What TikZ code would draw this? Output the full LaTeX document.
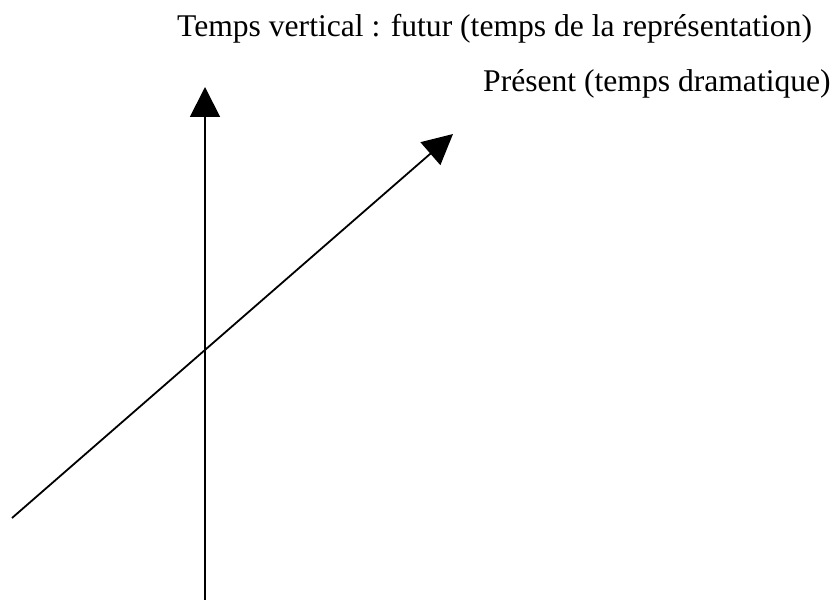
\documentclass[tikz,border=0pt]{standalone}
\usepackage{fontspec}
\setmainfont{Liberation Serif}
\usetikzlibrary{arrows.meta}
\begin{document}
\begin{tikzpicture}[x=1pt,y=1pt,
  axis/.style={line width=1.8pt,-{Triangle[length=30pt 0,width=30pt 0]}},
  lbl/.style={font=\fontsize{31.6}{36}\selectfont,anchor=base west,inner sep=0pt}]
\useasboundingbox (0,0) rectangle (838,600);
\coordinate (vb) at (205,0);
\coordinate (vt) at (205,513);
\coordinate (db) at (12,82);
\coordinate (dt) at (453,466);
\draw[axis] (vb) -- (vt);
\draw[axis] (db) -- (dt);
\node[lbl] (t1) at (177,563) {Temps vertical : futur (temps de la représentation)};
\node[lbl] (t2) at (483,508) {Présent (temps dramatique)};
\end{tikzpicture}
\end{document}
